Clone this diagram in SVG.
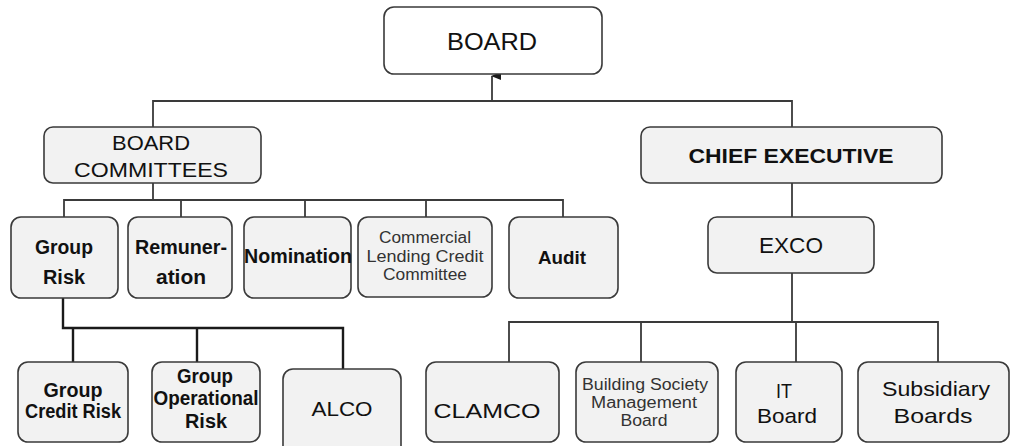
<svg xmlns="http://www.w3.org/2000/svg" width="1010" height="446" viewBox="0 0 1010 446">
<defs>
<marker id="arr" viewBox="0 0 8 11" refX="4" refY="1" markerWidth="8" markerHeight="11" markerUnits="userSpaceOnUse" orient="auto-start-reverse">
<path d="M0,10 L4,0 L8,10 Z" fill="#1a1a1a"/>
</marker>
<style>
.box{fill:#f2f2f2;stroke:#3a3a3a;stroke-width:1.6}
.white{fill:#ffffff}
.ln{fill:none;stroke:#3a3a3a;stroke-width:1.8}
.dk{fill:none;stroke:#1a1a1a;stroke-width:2.4}
text{font-family:"Liberation Sans",Arial,sans-serif;fill:#111;text-anchor:middle}
.b{font-weight:bold}
.sm{font-size:16px;fill:#333}
</style>
</defs>
<rect width="1010" height="446" fill="#ffffff"/>
<g id="connectors">
<path class="ln" d="M492,101 V76" marker-end="url(#arr)"/>
<path class="ln" d="M153,127 V101 H792 V127"/>
<path class="ln" d="M153,183 V200 M64,217 V200 H563 V217 M181,200 V217 M305,200 V217 M426,200 V217"/>
<path class="ln" d="M792,183 V217"/>
<path class="ln" d="M792,273 V322 M509,362 V322 H938 V362 M641,322 V362 M796,322 V362"/>
<path class="dk" d="M63,298 V328 H343 V369 M73,328 V362 M197,328 V362"/>
</g>
<g id="board"><rect class="box white" x="384" y="7" width="218" height="67" rx="10"/><text x="492" y="50" font-size="24" textLength="90" lengthAdjust="spacingAndGlyphs">BOARD</text></g>
<g id="board-committees"><rect class="box" x="44" y="127" width="217" height="56" rx="9"/><text x="151" y="150" font-size="21" textLength="78" lengthAdjust="spacingAndGlyphs">BOARD</text><text x="151" y="177" font-size="21" textLength="154" lengthAdjust="spacingAndGlyphs">COMMITTEES</text></g>
<g id="chief-executive"><rect class="box" x="641" y="127" width="301" height="56" rx="9"/><text class="b" x="791" y="163" font-size="20" textLength="205" lengthAdjust="spacingAndGlyphs">CHIEF EXECUTIVE</text></g>
<g id="group-risk"><rect class="box" x="11" y="217" width="107" height="81" rx="10"/><text class="b" x="64" y="254" font-size="20" textLength="58" lengthAdjust="spacingAndGlyphs">Group</text><text class="b" x="64" y="284" font-size="20" textLength="42" lengthAdjust="spacingAndGlyphs">Risk</text></g>
<g id="remuneration"><rect class="box" x="128" y="217" width="104" height="81" rx="10"/><text class="b" x="181" y="254" font-size="20" textLength="92" lengthAdjust="spacingAndGlyphs">Remuner-</text><text class="b" x="181" y="284" font-size="20" textLength="50" lengthAdjust="spacingAndGlyphs">ation</text></g>
<g id="nomination"><rect class="box" x="244" y="217" width="107" height="81" rx="10"/><text class="b" x="298" y="263" font-size="20" textLength="108" lengthAdjust="spacingAndGlyphs">Nomination</text></g>
<g id="commercial-lending"><rect class="box" x="358" y="217" width="134" height="80" rx="10"/><text class="sm" x="425" y="243" textLength="92" lengthAdjust="spacingAndGlyphs">Commercial</text><text class="sm" x="425" y="262" textLength="117" lengthAdjust="spacingAndGlyphs">Lending Credit</text><text class="sm" x="425" y="280" textLength="84" lengthAdjust="spacingAndGlyphs">Committee</text></g>
<g id="audit"><rect class="box" x="509" y="217" width="109" height="81" rx="10"/><text class="b" x="562" y="264" font-size="19" textLength="48" lengthAdjust="spacingAndGlyphs">Audit</text></g>
<g id="exco"><rect class="box" x="708" y="217" width="166" height="56" rx="9"/><text x="791" y="253" font-size="22" textLength="64" lengthAdjust="spacingAndGlyphs">EXCO</text></g>
<g id="group-credit-risk"><rect class="box" x="18" y="362" width="110" height="80" rx="10"/><text class="b" x="73" y="397" font-size="20" textLength="59" lengthAdjust="spacingAndGlyphs">Group</text><text class="b" x="73" y="418" font-size="20" textLength="96" lengthAdjust="spacingAndGlyphs">Credit Risk</text></g>
<g id="group-operational-risk"><rect class="box" x="152" y="362" width="108" height="80" rx="10"/><text class="b" x="205" y="383" font-size="20" textLength="56" lengthAdjust="spacingAndGlyphs">Group</text><text class="b" x="206" y="405" font-size="20" textLength="105" lengthAdjust="spacingAndGlyphs">Operational</text><text class="b" x="206" y="428" font-size="20" textLength="42" lengthAdjust="spacingAndGlyphs">Risk</text></g>
<g id="alco"><rect class="box" x="283" y="369" width="118" height="90" rx="10"/><text x="342" y="416" font-size="21" textLength="61" lengthAdjust="spacingAndGlyphs">ALCO</text></g>
<g id="clamco"><rect class="box" x="426" y="362" width="133" height="80" rx="10"/><text x="487" y="418" font-size="21" textLength="107" lengthAdjust="spacingAndGlyphs">CLAMCO</text></g>
<g id="building-society"><rect class="box" x="576" y="362" width="142" height="80" rx="10"/><text class="sm" x="645" y="390" textLength="126" lengthAdjust="spacingAndGlyphs">Building Society</text><text class="sm" x="644" y="408" textLength="106" lengthAdjust="spacingAndGlyphs">Management</text><text class="sm" x="644" y="426" textLength="47" lengthAdjust="spacingAndGlyphs">Board</text></g>
<g id="it-board"><rect class="box" x="736" y="362" width="106" height="80" rx="10"/><text x="784" y="398" font-size="21" textLength="16" lengthAdjust="spacingAndGlyphs">IT</text><text x="787" y="423" font-size="21" textLength="60" lengthAdjust="spacingAndGlyphs">Board</text></g>
<g id="subsidiary-boards"><rect class="box" x="858" y="362" width="151" height="80" rx="10"/><text x="936" y="396" font-size="21" textLength="108" lengthAdjust="spacingAndGlyphs">Subsidiary</text><text x="933" y="423" font-size="21" textLength="79" lengthAdjust="spacingAndGlyphs">Boards</text></g>
</svg>
